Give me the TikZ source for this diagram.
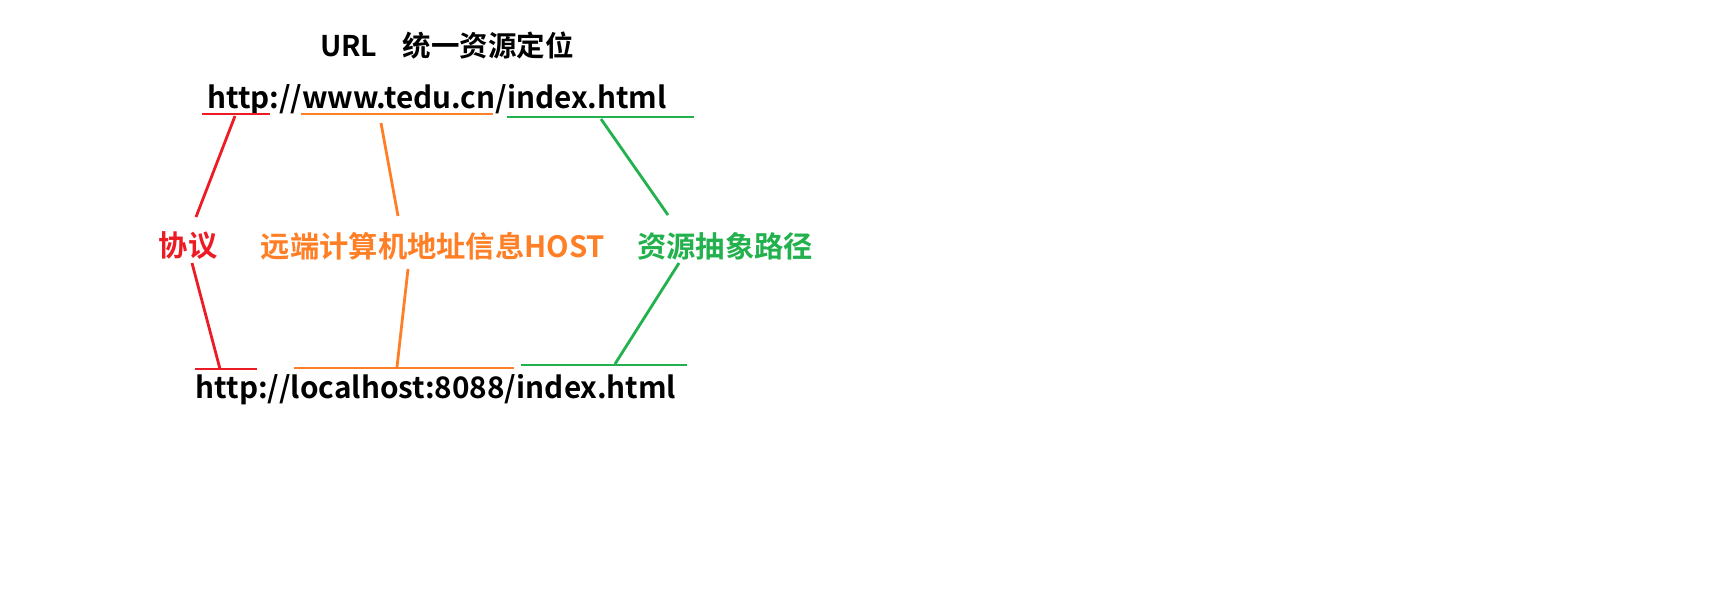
\documentclass[tikz,border=0pt]{standalone}
\usepackage{fontspec}
\setmainfont{Noto Sans CJK SC}[BoldFont={Noto Sans CJK SC Bold}]
\definecolor{pred}{RGB}{237,28,36}
\definecolor{porange}{RGB}{255,127,39}
\definecolor{pgreen}{RGB}{34,177,76}
\begin{document}
\begin{tikzpicture}[x=1pt,y=-1pt,
  ttl/.style={inner sep=0pt,font=\fontsize{28.5}{28.5}\selectfont\bfseries},
  txt/.style={inner sep=0pt,font=\fontsize{29.7}{29.7}\selectfont\bfseries},
  lbl/.style={inner sep=0pt,font=\fontsize{29.3}{29.3}\selectfont\bfseries},
  ln/.style={line width=2.8pt}]
\useasboundingbox[fill=white] (0,0) rectangle (1721,605);
\node[ttl] (title) at (447,46) {URL\hspace{0.9em}统一资源定位};
\node[txt] (url1) at (437,100) {http://www.tedu.cn/index.html};
\node[txt] (url2) at (436,390) {http://localhost:8088/index.html};
\node[lbl,text=pred] (proto) at (188,246) {协议};
\node[lbl,text=porange] (host) at (433,246) {远端计算机地址信息HOST};
\node[lbl,text=pgreen] (path) at (725,246) {资源抽象路径};
% underlines
\coordinate (r1a) at (202,114); \coordinate (r1b) at (270,114);
\coordinate (o1a) at (301,114); \coordinate (o1b) at (493,114);
\coordinate (g1a) at (507,117); \coordinate (g1b) at (694,117);
\coordinate (r2a) at (195,369); \coordinate (r2b) at (257,369);
\coordinate (o2a) at (294,368); \coordinate (o2b) at (514,368);
\coordinate (g2a) at (521,365); \coordinate (g2b) at (687,365);
\draw[ln,pred] (r1a) -- (r1b);
\draw[ln,porange] (o1a) -- (o1b);
\draw[ln,pgreen] (g1a) -- (g1b);
\draw[ln,pred] (r2a) -- (r2b);
\draw[ln,porange] (o2a) -- (o2b);
\draw[ln,pgreen] (g2a) -- (g2b);
% connectors
\coordinate (rt) at (235,116); \coordinate (rtl) at (196,217);
\coordinate (ot) at (381,123); \coordinate (otl) at (398,216);
\coordinate (gt) at (601,119); \coordinate (gtl) at (668,215);
\coordinate (rbl) at (192,263); \coordinate (rb) at (220,369);
\coordinate (obl) at (408,269); \coordinate (ob) at (397,367);
\coordinate (gbl) at (679,263); \coordinate (gb) at (615,364);
\draw[ln,pred] (rt) -- (rtl);
\draw[ln,porange] (ot) -- (otl);
\draw[ln,pgreen] (gt) -- (gtl);
\draw[ln,pred] (rbl) -- (rb);
\draw[ln,porange] (obl) -- (ob);
\draw[ln,pgreen] (gbl) -- (gb);
\end{tikzpicture}
\end{document}
